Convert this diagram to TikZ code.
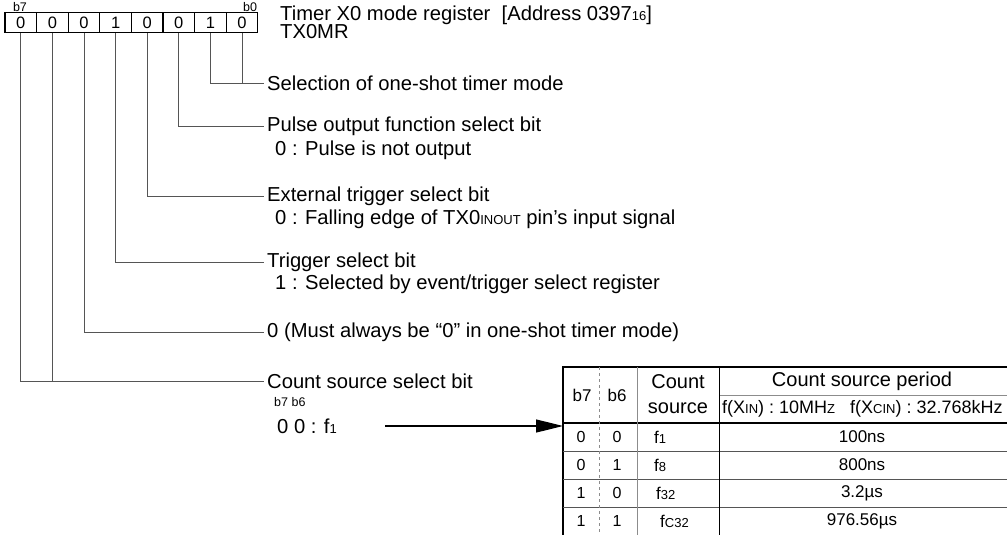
\documentclass[tikz,border=0pt]{standalone}
\usepackage{fontspec}
\setmainfont{Liberation Sans}
\usetikzlibrary{arrows.meta}
\definecolor{rule}{HTML}{555555}
\definecolor{pale}{HTML}{8C8C8C}
\newcommand\lowtxt[1]{{\fontsize{13}{13}\selectfont #1}}

\begin{document}
\begin{tikzpicture}[x=1pt, y=-1pt,
  font=\fontsize{20.2}{24}\selectfont,
  cell/.style={draw, line width=1.1pt, minimum width=31.6pt, minimum height=20.5pt,
               inner sep=0pt, font=\fontsize{16.5}{16.5}\selectfont},
  lbl/.style={anchor=west, inner sep=3pt},
  bitno/.style={font=\fontsize{12.5}{12.5}\selectfont, inner sep=0pt},
  lead/.style={draw=rule, line width=0.9pt},
  tbl/.style={font=\fontsize{17}{17}\selectfont, inner sep=0pt},
  arr/.style={-{Triangle[length=27pt, width=13pt]}, line width=1.2pt}]
\useasboundingbox (0,0) rectangle (1007,535);
\clip (0,0) rectangle (1007,535);
% register bits
\foreach \v [count=\i from 0] in {0,0,0,1,0,0,1,0} {
  \pgfmathtruncatemacro\b{7-\i}
  \node[cell] (c\b) at (20.8+31.6*\i,22.5) {\v};
}
\node[bitno] (nb7) at (20,7) {b7};
\node[bitno] (nb0) at (250,7) {b0};
\node[lbl, inner sep=0pt] (title) at (280,15) {Timer X0 mode register\ \ [Address 0397\lowtxt{16}]};
\node[lbl, inner sep=0pt] (reg) at (280,32) {TX0MR};
% bit descriptions
\node[lbl] (sel) at (264,83) {Selection of one-shot timer mode};
\node[lbl] (pul) at (264,126) {Pulse output function select bit};
\node[lbl] (pulv) at (272,150) {0 : Pulse is not output};
\node[lbl] (ext) at (264,196) {External trigger select bit};
\node[lbl] (extv) at (272,219) {0 : Falling edge of TX0\lowtxt{INOUT} pin's input signal};
\node[lbl] (trg) at (264,262) {Trigger select bit};
\node[lbl] (trgv) at (272,284) {1 : Selected by event/trigger select register};
\node[lbl] (rsv) at (264,332) {0 (Must always be “0” in one-shot timer mode)};
\node[lbl] (cnt) at (264,381) {Count source select bit};
\node[bitno, anchor=west] (cntb) at (274,402) {b7 b6};
\node[lbl] (cntv) at (274,426) {0 0 : f\lowtxt{1}};
\draw[lead] (c1.south) |- (sel.west);
\draw[lead] (c0.south) -- (c0.south |- sel.west);
\draw[lead] (c2.south) |- (pul.west);
\draw[lead] (c3.south) |- (ext.west);
\draw[lead] (c4.south) |- (trg.west);
\draw[lead] (c5.south) |- (rsv.west);
\draw[lead] (c7.south) |- (cnt.west);
\draw[lead] (c6.south) -- (c6.south |- cnt.west);
% count source table
\coordinate (arrs) at (385,426);
\coordinate (tnw) at (563,367);
\draw[arr] (arrs) -- (tnw |- arrs);
\draw[line width=2pt] (1015,367) -- (tnw) -- (563,545);
\draw[line width=1.8pt] (563,423) -- (1015,423);
\draw[pale, line width=0.8pt] (719,395) -- (1015,395);
\foreach \y in {451,479,507} \draw[rule, line width=0.9pt] (563,\y) -- (1015,\y);
\draw[pale, dashed, line width=0.8pt] (599,367) -- (599,545);
\draw[pale, line width=0.9pt] (637,367) -- (637,545);
\draw[line width=0.9pt] (719,367) -- (719,545);
\node[tbl] (h7) at (582,395) {b7};
\node[tbl] (h6) at (617,395) {b6};
\node[tbl, font=\fontsize{20}{20}\selectfont] (hsrc) at (678,382) {Count};
\node[tbl, font=\fontsize{20}{20}\selectfont] (hsrc2) at (678,408) {source};
\node[tbl, font=\fontsize{20}{20}\selectfont] (hper) at (862,381) {Count source period};
\node[tbl, anchor=west, font=\fontsize{18}{18}\selectfont] (hclk) at (722,409)
  {f(X\lowtxt{IN}) : 10MH\lowtxt{Z}\ \ \ f(X\lowtxt{CIN}) : 32.768kHz};
\foreach \p/\q/\s/\t/\d [count=\r] in {0/0/f\lowtxt{1}/100ns/0, 0/1/f\lowtxt{8}/800ns/0,
    1/0/f\lowtxt{32}/3.2µs/2, 1/1/f\lowtxt{C32}/976.56µs/6} {
  \node[tbl, font=\fontsize{16}{16}\selectfont] (r\r b7) at (581,409+28*\r) {\p};
  \node[tbl, font=\fontsize{16}{16}\selectfont] (r\r b6) at (617,409+28*\r) {\q};
  \node[tbl, anchor=west] (r\r src) at (654+\d,409+28*\r) {\s};
  \node[tbl] (r\r per) at (862,409+28*\r) {\t};
}
\end{tikzpicture}
\end{document}
